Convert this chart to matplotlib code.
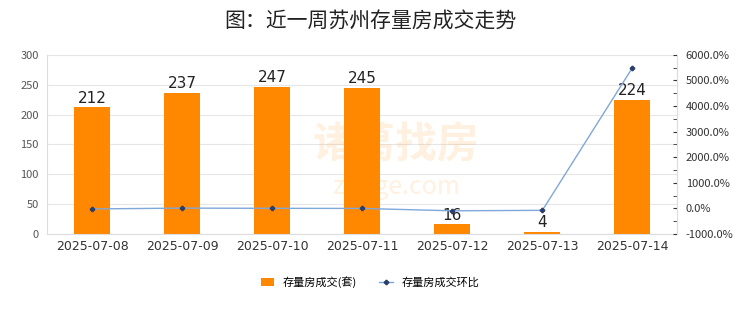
import matplotlib
matplotlib.use("Agg")
import matplotlib.pyplot as plt
from matplotlib.ticker import FuncFormatter, MultipleLocator

plt.rcParams['font.family'] = ['Noto Sans CJK SC', 'DejaVu Sans']

dates = ["2025-07-08", "2025-07-09", "2025-07-10", "2025-07-11", "2025-07-12", "2025-07-13", "2025-07-14"]
volume = [212, 237, 247, 245, 16, 4, 224]
mom_pct = [-20, 11.8, 4.2, -0.8, -93.5, -75.0, 5500.0]

title = "图：近一周苏州存量房成交走势"
bar_label = "存量房成交(套)"
line_label = "存量房成交环比"

fig = plt.figure(figsize=(7.4, 3.12), dpi=100)
ax = fig.add_axes([0.0635, 0.25, 0.852, 0.574])
x = list(range(len(dates)))

bars = ax.bar(x, volume, width=0.4, color="#FF8800", zorder=2, label=bar_label)
for xi, v in zip(x, volume):
    ax.text(xi, v + 3, str(v), ha="center", va="bottom", fontsize=11, color="#222222", zorder=5,
            family="DejaVu Sans")

ax.set_ylim(0, 300)
ax.yaxis.set_major_locator(MultipleLocator(50))
ax.set_xlim(-0.5, len(dates) - 0.5)
ax.set_xticks(x)
ax.set_xticklabels(dates, fontsize=9, color="#333333", family="DejaVu Sans")
ax.tick_params(axis="y", labelsize=8, colors="#555555", length=0, pad=6)
ax.tick_params(axis="x", length=0, pad=4)
ax.grid(axis="y", color="#e6e6e6", linewidth=0.8, zorder=0)
ax.spines["top"].set_visible(False)
for s in ["left", "bottom", "right"]:
    ax.spines[s].set_color("#dddddd")

ax2 = ax.twinx()
line, = ax2.plot(x, mom_pct, color="#7fa7da", linewidth=1.0, marker="P", markersize=3,
                 markerfacecolor="#2c3e6b", markeredgecolor="#2c3e6b", zorder=3, label=line_label)
ax2.set_ylim(-1000, 6000)
ax2.yaxis.set_major_locator(MultipleLocator(1000))
ax2.yaxis.set_minor_locator(MultipleLocator(500))
ax2.yaxis.set_major_formatter(FuncFormatter(lambda v, p: f"{v:.1f}%"))
ax2.tick_params(axis="y", which="both", direction="in", length=3, colors="#333333", labelsize=8, pad=6)
ax2.spines["top"].set_visible(False)
ax2.spines["right"].set_color("#dddddd")
ax2.spines["left"].set_visible(False)
ax2.spines["bottom"].set_visible(False)

# watermark
fig.text(0.535, 0.535, "诸葛找房", fontsize=30, color="#FF8800", alpha=0.12, ha="center", va="center", fontweight="bold")
fig.text(0.535, 0.40, "zhuge.com", fontsize=18, color="#FF8800", alpha=0.12, ha="center", va="center")

fig.suptitle(title, y=0.965, fontsize=15, color="#222222", fontweight="normal")

fig.legend([bars, line], [bar_label, line_label], loc="center", bbox_to_anchor=(0.5, 0.095),
           ncol=2, frameon=False, fontsize=8, handlelength=1.2, handleheight=0.7, columnspacing=2.0)

fig.savefig("out.png", dpi=100, facecolor="white")
